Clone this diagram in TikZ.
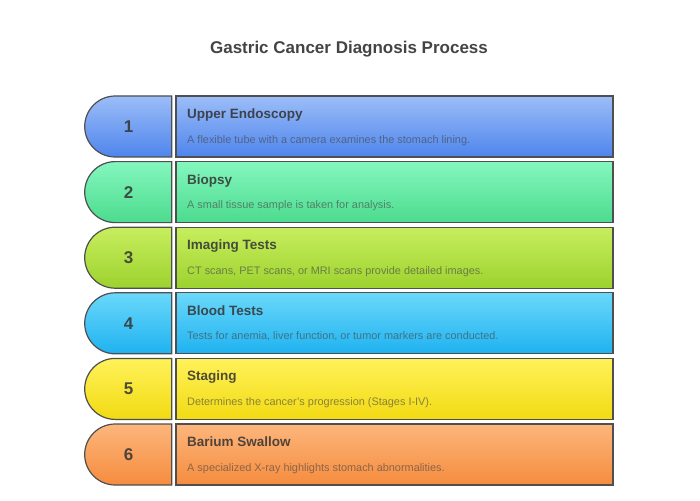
\documentclass[tikz,border=0pt]{standalone}
\usepackage{fontspec}
\setmainfont{Liberation Sans}
\usetikzlibrary{shapes.misc}

\definecolor{topA}{HTML}{9CBDF8}\definecolor{botA}{HTML}{4E85EC}
\definecolor{topB}{HTML}{84F7BE}\definecolor{botB}{HTML}{4CDB8E}
\definecolor{topC}{HTML}{C8EE5E}\definecolor{botC}{HTML}{9CD22E}
\definecolor{topD}{HTML}{6AD8FA}\definecolor{botD}{HTML}{1FB2F0}
\definecolor{topE}{HTML}{FFF25A}\definecolor{botE}{HTML}{F2DA12}
\definecolor{topF}{HTML}{FDB67C}\definecolor{botF}{HTML}{F58C3E}
\definecolor{edge}{HTML}{4F4F4F}
\definecolor{titlegray}{HTML}{444444}

\tikzset{
  tab/.style={rounded rectangle, rounded rectangle right arc=none, draw=edge, line width=1.2pt,
    minimum width=87pt, minimum height=61pt, inner sep=0pt, font=\bfseries\fontsize{17}{20}\selectfont},
  stepbox/.style={rectangle, draw=edge, line width=1.2pt, minimum width=437pt, minimum height=61pt, inner sep=0pt},
  head/.style={anchor=base west, inner sep=0pt, font=\bfseries\fontsize{13.5}{16}\selectfont},
  desc/.style={anchor=base west, inner sep=0pt, font=\fontsize{10.9}{13}\selectfont}
}

\begin{document}
\begin{tikzpicture}[x=1pt,y=-1pt]
  \useasboundingbox (0,0) rectangle (700,500);
  \node[text=titlegray, font=\bfseries\fontsize{17}{20}\selectfont, anchor=base] (title) at (349,54) {Gastric Cancer Diagnosis Process};
  \foreach \i/\c/\title/\text in {
      1/A/Upper Endoscopy/{A flexible tube with a camera examines the stomach lining.},
      2/B/Biopsy/{A small tissue sample is taken for analysis.},
      3/C/Imaging Tests/{CT scans, PET scans, or MRI scans provide detailed images.},
      4/D/Blood Tests/{Tests for anemia, liver function, or tumor markers are conducted.},
      5/E/Staging/{Determines the cancer's progression (Stages I-IV).},
      6/F/Barium Swallow/{A specialized X-ray highlights stomach abnormalities.}}
  {
    \pgfmathsetmacro{\top}{96+65.6*(\i-1)}
    \node[tab, top color=top\c, bottom color=bot\c, text=bot\c!15!black!80] (num\i) at (128.5,\top+30.5) {\i};
    \node[stepbox, top color=top\c, bottom color=bot\c] (box\i) at (394.5,\top+30.5) {};
    \node[head, text=bot\c!15!black!80] (head\i) at (187,\top+22.5) {\title};
    \node[desc, text=bot\c!45!black!80] (desc\i) at (187,\top+47) {\text};
  }
\end{tikzpicture}
\end{document}
